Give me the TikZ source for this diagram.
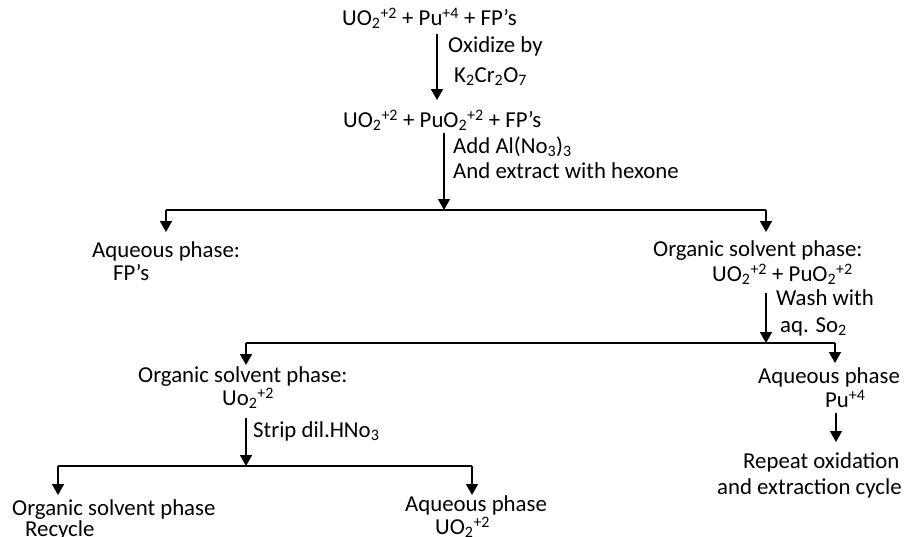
\documentclass[tikz,border=0pt]{standalone}
\usepackage{fontspec}
\setmainfont{Carlito}
\usetikzlibrary{arrows.meta}
\newcommand{\spx}[1]{\textsuperscript{#1}}
\newcommand{\sbx}[1]{\textsubscript{#1}}
\tikzset{
  lbl/.style={anchor=west, inner sep=0pt, yshift=-3pt, text height=0.72em, text depth=0.18em, font=\fontsize{22.8}{26}\selectfont},
  arr/.style={line width=1.6pt, -{Triangle[width=12pt,length=11pt]}},
  ln/.style={line width=1.7pt}
}
\begin{document}
\begin{tikzpicture}[x=1pt,y=-1pt]
\useasboundingbox (0,0) rectangle (907,536);
% text nodes
\node[lbl] (t1) at (342,20) {UO\sbx{2}\spx{+2} + Pu\spx{+4} + FP’s};
\node[lbl] (l1a) at (448,47) {Oxidize by};
\node[lbl] (l1b) at (454,77) {K\sbx{2}Cr\sbx{2}O\sbx{7}};
\node[lbl] (t2) at (343,122) {UO\sbx{2}\spx{+2} + PuO\sbx{2}\spx{+2} + FP’s};
\node[lbl] (l2a) at (453,148) {Add Al(No\sbx{3})\sbx{3}};
\node[lbl] (l2b) at (453,173) {And extract with hexone};
\node[lbl] (aq1) at (92,252) {Aqueous phase:};
\node[lbl] (aq1b) at (113,275) {FP’s};
\node[lbl] (os1) at (653,251) {Organic solvent phase:};
\node[lbl] (os1b) at (712,276) {UO\sbx{2}\spx{+2} + PuO\sbx{2}\spx{+2}};
\node[lbl] (l3a) at (776,300) {Wash with};
\node[lbl] (l3b) at (780,327) {aq. So\sbx{2}};
\node[lbl] (aq2) at (758,378) {Aqueous phase};
\node[lbl] (aq2b) at (825,402) {Pu\spx{+4}};
\node[lbl] (rp1) at (743,463) {Repeat oxidation};
\node[lbl] (rp2) at (717,489) {and extraction cycle};
\node[lbl] (os2) at (138,377) {Organic solvent phase:};
\node[lbl] (os2b) at (222,400) {Uo\sbx{2}\spx{+2}};
\node[lbl] (l4) at (253,432) {Strip dil.HNo\sbx{3}};
\node[lbl] (os3) at (12,510) {Organic solvent phase};
\node[lbl] (os3b) at (25,531) {Recycle};
\node[lbl] (aq3) at (405,506) {Aqueous phase};
\node[lbl] (aq3b) at (435,529) {UO\sbx{2}\spx{+2}};
% junction and tip coordinates
\coordinate (a1s) at (437,34);  \coordinate (a1e) at (437,100);
\coordinate (a2s) at (444,133); \coordinate (j1) at (444,210);
\coordinate (j1l) at (166,210); \coordinate (d1l) at (166,232);
\coordinate (j1r) at (766,210); \coordinate (d1r) at (766,232);
\coordinate (a3s) at (766,293); \coordinate (j2) at (766,343);
\coordinate (j2l) at (246,343); \coordinate (d2l) at (246,365);
\coordinate (j2r) at (835,343); \coordinate (d2r) at (835,363);
\coordinate (a4s) at (836,413); \coordinate (a4e) at (836,442);
\coordinate (a5s) at (246,418); \coordinate (j3) at (246,466);
\coordinate (j3l) at (58,466);  \coordinate (d3l) at (58,495);
\coordinate (j3r) at (472,466); \coordinate (d3r) at (472,495);
% connectors
\draw[arr] (a1s) -- (a1e);
\draw[arr] (a2s) -- (j1);
\draw[ln] (j1l) -- (j1r);
\draw[arr] (j1l) -- (d1l);
\draw[arr] (j1r) -- (d1r);
\draw[arr] (a3s) -- (j2);
\draw[ln] (j2l) -- (j2r);
\draw[arr] (j2l) -- (d2l);
\draw[arr] (j2r) -- (d2r);
\draw[arr] (a4s) -- (a4e);
\draw[arr] (a5s) -- (j3);
\draw[ln] (j3l) -- (j3r);
\draw[arr] (j3l) -- (d3l);
\draw[arr] (j3r) -- (d3r);
\end{tikzpicture}
\end{document}
